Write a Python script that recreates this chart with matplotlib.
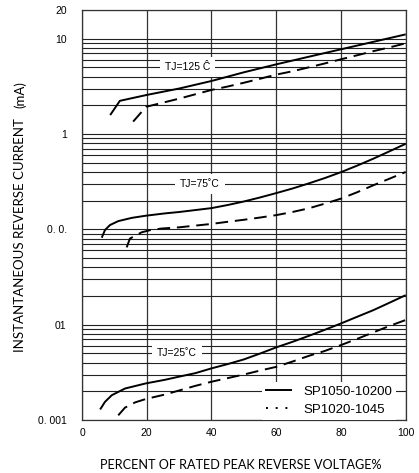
import matplotlib
matplotlib.use("Agg")
import matplotlib.pyplot as plt
from matplotlib.lines import Line2D
from matplotlib.ticker import LogLocator, NullFormatter, FixedLocator

# ---- data (percent of rated peak reverse voltage vs reverse current, mA) ----
x125_solid = [8.7, 11.7, 20, 30, 40, 50, 60, 70, 80, 90, 100]
y125_solid = [1.58, 2.23, 2.57, 3.0, 3.6, 4.44, 5.38, 6.46, 7.74, 9.27, 11.1]
x125_dash = [15.8, 19.8, 30, 40, 45, 50, 55, 60, 65, 70, 75, 80, 85, 90, 95, 100]
y125_dash = [1.35, 1.93, 2.35, 2.90, 3.15, 3.45, 3.8, 4.2, 4.55, 5.0, 5.5, 6.08, 6.7,
             7.4, 8.1, 8.95]

x75_solid = [6.1, 7.1, 8.65, 11.2, 15.4, 19.7, 25.6, 30, 40, 45, 50, 55, 60, 65, 70,
             75, 80, 85, 90, 95, 100]
y75_solid = [0.0817, 0.0984, 0.111, 0.122, 0.132, 0.139, 0.147, 0.152, 0.167, 0.180,
             0.196, 0.216, 0.240, 0.268, 0.303, 0.345, 0.398, 0.466, 0.551, 0.659, 0.79]
x75_dash = [13.8, 14.8, 18.4, 21, 24.6, 30, 40, 45, 50, 55, 60, 65, 70, 75, 80, 85,
            90, 95, 100]
y75_dash = [0.0647, 0.080, 0.093, 0.098, 0.102, 0.105, 0.114, 0.120, 0.126, 0.133,
            0.141, 0.152, 0.166, 0.186, 0.21, 0.245, 0.29, 0.34, 0.40]

x25_solid = [5.6, 7.1, 9.2, 13.3, 19.7, 25.6, 30, 35, 40, 45, 50, 55, 60, 65, 70, 75,
             80, 85, 90, 95, 100]
y25_solid = [0.00129, 0.00155, 0.00182, 0.00214, 0.00242, 0.00264, 0.00285, 0.0031,
             0.00348, 0.00386, 0.00432, 0.00498, 0.00578, 0.0066, 0.00762, 0.00883,
             0.0103, 0.0121, 0.0142, 0.0170, 0.0204]
x25_dash = [11.2, 13.3, 16.4, 19.7, 25.6, 30, 35, 40, 45, 50, 55, 60, 65, 70, 75, 80,
            85, 90, 95, 100]
y25_dash = [0.00112, 0.00135, 0.00153, 0.00166, 0.00185, 0.00204, 0.00228, 0.00252,
            0.00275, 0.0030, 0.0033, 0.00361, 0.0041, 0.0047, 0.0053, 0.00611, 0.0071,
            0.0083, 0.0097, 0.0112]

xticks = [0, 20, 40, 60, 80, 100]
xticklabels = ["0", "20", "40", "60", "80", "100"]
yticks = [0.001, 0.01, 0.1, 1, 10, 20]
yticklabels = ["0. 001", "01", "0. 0.", "1", "10", "20"]

temp_labels = ["TJ=125 Ĉ", "TJ=75˚C", "TJ=25˚C"]
temp_label_pos = [(32.5, 5.0), (36.5, 0.3), (29.3, 0.005)]
legend_labels = ["SP1050-10200", "SP1020-1045"]

# ---- figure ----
fig = plt.figure(figsize=(4.19, 4.73), dpi=100)
ax = fig.add_axes([82 / 419, 1 - 420 / 473, 323.7 / 419, 410 / 473])
ax.set_yscale("log")
ax.set_xlim(0, 100)
ax.set_ylim(0.001, 20)

dash = (0, (6.5, 3.5))
lw = 1.4
for xs, ys in [(x125_solid, y125_solid), (x75_solid, y75_solid), (x25_solid, y25_solid)]:
    ax.plot(xs, ys, color="black", lw=lw, solid_capstyle="butt",
            solid_joinstyle="round", zorder=4)
for xs, ys in [(x125_dash, y125_dash), (x75_dash, y75_dash), (x25_dash, y25_dash)]:
    ax.plot(xs, ys, color="black", lw=lw, linestyle=dash, dash_capstyle="butt",
            dash_joinstyle="round", zorder=4)

# grid
ax.yaxis.set_major_locator(FixedLocator(yticks))
ax.yaxis.set_minor_locator(LogLocator(base=10, subs=range(2, 10)))
ax.yaxis.set_minor_formatter(NullFormatter())
ax.set_yticks(yticks)
ax.set_yticklabels(yticklabels)
ax.set_xticks(xticks)
ax.set_xticklabels(xticklabels)
ax.grid(True, which="both", axis="y", color="#222222", lw=0.8, zorder=1)
ax.grid(True, which="major", axis="x", color="#333333", lw=0.9, zorder=1)
ax.set_axisbelow(True)
ax.tick_params(which="both", length=0)
ax.tick_params(axis="y", pad=11, labelsize=7.5)
ax.tick_params(axis="x", pad=6, labelsize=7.5)
for lab in ax.get_xticklabels() + ax.get_yticklabels():
    lab.set_fontfamily("Liberation Sans")
for s in ax.spines.values():
    s.set_color("#333333")
    s.set_linewidth(0.9)

# temperature labels
for t, (tx, ty) in zip(temp_labels, temp_label_pos):
    ax.text(tx, ty, t, ha="center", va="center", fontsize=7.5, family="Liberation Sans",
            zorder=3, bbox=dict(facecolor="white", edgecolor="none", pad=3.5))

# legend
handles = [Line2D([], [], color="black", lw=1.4),
           Line2D([], [], color="black", lw=1.4, linestyle=(0, (1, 4)))]
leg = ax.legend(handles, legend_labels, loc="lower right", bbox_to_anchor=(0.97, 0.0),
                borderaxespad=0.0, frameon=True, fancybox=False, framealpha=1,
                edgecolor="none", facecolor="white",
                prop={"family": "Liberation Sans", "size": 9.5},
                handlelength=1.9, handletextpad=0.9, labelspacing=0.45, borderpad=0.3)
leg.set_zorder(5)

# axis labels
fig.text(20 / 419, 1 - 235 / 473, "INSTANTANEOUS REVERSE CURRENT", rotation=90,
         ha="center", va="center", fontsize=9.5, family="Lato")
fig.text(20 / 419, 1 - 95 / 473, "(mA)", rotation=90, ha="center", va="center",
         fontsize=9.5, family="Lato")
fig.text(241 / 419, 1 - 465 / 473, "PERCENT OF RATED PEAK REVERSE VOLTAGE%",
         ha="center", va="center", fontsize=9.1, family="Lato")

fig.savefig("out.png", dpi=100)
